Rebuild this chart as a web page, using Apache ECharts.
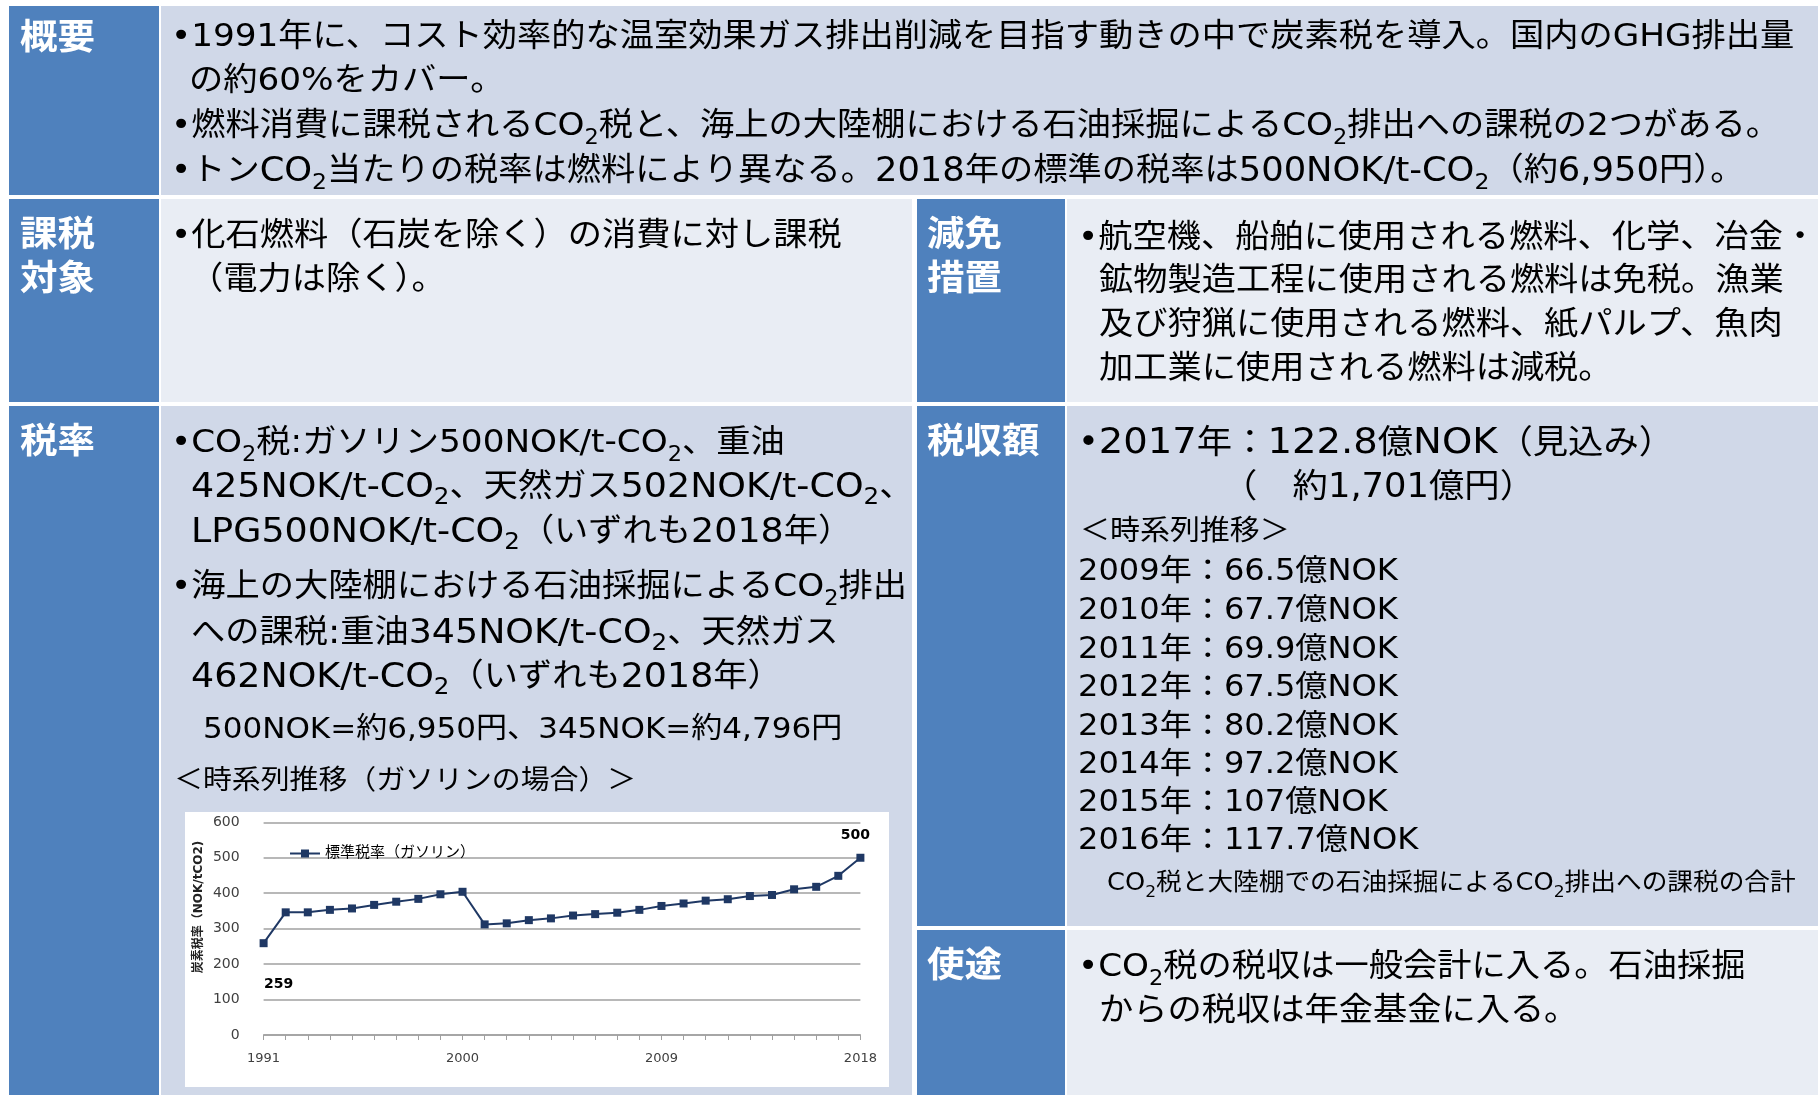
<!DOCTYPE html>
<html><head><meta charset="utf-8">
<script src="https://cdn.jsdelivr.net/npm/echarts@6/dist/echarts.min.js"></script>
<style>html,body{margin:0;padding:0;background:#fff}#main{width:1818px;height:1095px}</style>
</head><body><div id="main"></div>
<script>
// ---------- chart data ----------
const years = ['1991','1992','1993','1994','1995','1996','1997','1998','1999','2000','2001','2002','2003','2004','2005','2006','2007','2008','2009','2010','2011','2012','2013','2014','2015','2016','2017','2018'];
const gasolineRate = [259,346,346,353,357,367,376,384,397,404,312,315,324,329,337,341,345,353,364,371,379,383,392,395,411,418,449,500];
const seriesName = '標準税率（ガソリン）';
const yAxisTitle = '炭素税率（NOK/tCO2)';
const yMin = 0, yMax = 600, yStep = 100;

// ---------- table text ----------
const sectionLabels = ['概要', '課税', '対象', '減免', '措置', '税率', '税収額', '使途'];
const overviewLines = [
  '•1991年に、コスト効率的な温室効果ガス排出削減を目指す動きの中で炭素税を導入。国内のGHG排出量',
  'の約60%をカバー。',
  '•燃料消費に課税されるCO₂税と、海上の大陸棚における石油採掘によるCO₂排出への課税の2つがある。',
  '•トンCO₂当たりの税率は燃料により異なる。2018年の標準の税率は500NOK/t-CO₂（約6,950円）。'
];
const targetLines = ['•化石燃料（石炭を除く）の消費に対し課税', '（電力は除く）。'];
const reliefLines = [
  '•航空機、船舶に使用される燃料、化学、冶金・',
  '鉱物製造工程に使用される燃料は免税。漁業',
  '及び狩猟に使用される燃料、紙パルプ、魚肉',
  '加工業に使用される燃料は減税。'
];
const rateLines = [
  '•CO₂税:ガソリン500NOK/t-CO₂、重油',
  '425NOK/t-CO₂、天然ガス502NOK/t-CO₂、',
  'LPG500NOK/t-CO₂（いずれも2018年）',
  '•海上の大陸棚における石油採掘によるCO₂排出',
  'への課税:重油345NOK/t-CO₂、天然ガス',
  '462NOK/t-CO₂（いずれも2018年）'
];
const conversionLine = '500NOK=約6,950円、345NOK=約4,796円';
const rateChartHeading = '＜時系列推移（ガソリンの場合）＞';
const revenueLines = ['•2017年：122.8億NOK（見込み）', '（　約1,701億円）'];
const revenueHeading = '＜時系列推移＞';
const revenueYears = ['2009','2010','2011','2012','2013','2014','2015','2016'];
const revenueValues = ['66.5','67.7','69.9','67.5','80.2','97.2','107','117.7'];
const revenueNote = 'CO₂税と大陸棚での石油採掘によるCO₂排出への課税の合計';
const useLines = ['•CO₂税の税収は一般会計に入る。石油採掘', 'からの税収は年金基金に入る。'];

// ---------- helpers ----------
const FONT = "'DejaVu Sans','Noto Sans CJK JP',sans-serif";
const BLUE = '#4F81BD', DARK = '#D0D8E8', LIGHT = '#E9EDF4';
function toRich(str) {
  const parts = str.split('₂');
  let out = '';
  parts.forEach((p, i) => {
    const runs = p.match(/[\x20-\x7E]+|[^\x20-\x7E]+/g) || [];
    runs.forEach(r => { out += (/^[\x20-\x7E]/.test(r) ? '{a|' : '{n|') + r + '}'; });
    if (i < parts.length - 1) out += '{s|2}';
  });
  return out;
}
function txt(str, x, y, size, o) {
  o = o || {};
  const color = o.color || '#000';
  const lh = Math.round(size * 1.375);
  const subLH = Math.round(size * 0.6);
  const ls = o.latin || 1;
  const w = o.bold ? 'bold' : 'normal';
  return {
    type: 'text', x: x, y: y, scaleX: o.scaleX || 1.07, silent: true,
    style: {
      text: toRich(str), align: 'left', verticalAlign: 'middle',
      rich: {
        n: {fontSize: size, fontFamily: FONT, fontWeight: w, fill: color, lineHeight: lh},
        a: {fontSize: Math.round(size * ls), fontFamily: FONT, fontWeight: w, fill: color, lineHeight: lh},
        s: {fontSize: Math.round(size * 0.66 * ls), fontFamily: FONT, fill: color, lineHeight: subLH, verticalAlign: 'bottom'}
      }
    }
  };
}
function rect(x, y, w, h, c) {
  return {type: 'rect', silent: true, shape: {x: x, y: y, width: w, height: h}, style: {fill: c}};
}

const g = [];
// backgrounds
g.push(rect(9, 6, 150, 189, BLUE), rect(161, 6, 1657, 189, DARK));
g.push(rect(9, 199, 150, 203, BLUE), rect(161, 199, 751, 203, LIGHT));
g.push(rect(917, 199, 148, 203, BLUE), rect(1067, 199, 751, 203, LIGHT));
g.push(rect(9, 406, 150, 689, BLUE), rect(161, 406, 751, 689, DARK));
g.push(rect(917, 406, 148, 520, BLUE), rect(1067, 406, 751, 520, DARK));
g.push(rect(917, 930, 148, 165, BLUE), rect(1067, 930, 751, 165, LIGHT));
// chart image background
g.push(rect(185, 812, 704, 275, '#FFFFFF'));

// labels
const lab = (s, x, y) => txt(s, x, y, 35, {bold: true, color: '#fff'});
g.push(lab(sectionLabels[0], 20, 40));
g.push(lab(sectionLabels[1], 20, 237), lab(sectionLabels[2], 20, 281));
g.push(lab(sectionLabels[3], 927, 237), lab(sectionLabels[4], 927, 281));
g.push(lab(sectionLabels[5], 20, 444));
g.push(lab(sectionLabels[6], 927, 444));
g.push(lab(sectionLabels[7], 927, 968));

// row 1
[38, 82, 127, 172].forEach((y, i) => g.push(txt(overviewLines[i], i === 1 ? 189 : 171, y, 32, {latin: i === 3 ? 1.04 : 1})));
// row 2
[237, 281].forEach((y, i) => g.push(txt(targetLines[i], i === 0 ? 171 : 189, y, 32)));
[239, 282, 326, 370].forEach((y, i) => g.push(txt(reliefLines[i], i === 0 ? 1078 : 1099, y, 32)));
// row 3 left
[444, 488, 533, 588, 634, 678].forEach((y, i) => g.push(txt(rateLines[i], (i === 0 || i === 3) ? 171 : 191, y, 32, {latin: (i === 0 || i === 3) ? 1 : 1.07})));
g.push(txt(conversionLine, 203, 730, 29));
g.push(txt(rateChartHeading, 174, 782, 27));
// row 3 right
g.push(txt(revenueLines[0], 1078, 444, 33, {latin: 1.1}));
g.push(txt(revenueLines[1], 1222, 488, 33));
g.push(txt(revenueHeading, 1080, 533, 28));
[572, 611, 650, 688, 727, 765, 803, 841].forEach((y, i) =>
  g.push(txt(revenueYears[i] + '年：' + revenueValues[i] + '億NOK', 1078, y, 30)));
g.push(txt(revenueNote, 1107, 884, 24));
// use
g.push(txt(useLines[0], 1078, 968, 32), txt(useLines[1], 1099, 1012, 32));
// chart y title
g.push({type: 'text', x: 199, y: 907, rotation: Math.PI / 2, silent: true,
  style: {text: yAxisTitle, align: 'center', verticalAlign: 'middle', fontSize: 12, fontWeight: 'bold',
    fontFamily: FONT, fill: '#222'}});

const last = gasolineRate.length - 1;
const lineData = gasolineRate.map((v, i) => {
  if (i === 0) return {value: v, label: {show: true, position: 'bottom', distance: 30, offset: [15, 0]}};
  if (i === last) return {value: v, label: {show: true, position: 'top', distance: 11, offset: [-5, 0]}};
  return v;
});

const chart = echarts.init(document.getElementById('main'), null, {renderer: 'canvas'});
chart.setOption({
  animation: false,
  backgroundColor: '#ffffff',
  graphic: {elements: g},
  legend: {
    data: [seriesName], left: 284, top: 841, itemWidth: 30, itemHeight: 10, itemGap: 5, z: 8,
    textStyle: {fontSize: 15, fontFamily: FONT, color: '#000'}
  },
  grid: {left: 263.6, right: 957.6, top: 822.3, bottom: 60, containLabel: false},
  xAxis: {
    type: 'category', data: years, boundaryGap: false, z: 5,
    axisLine: {lineStyle: {color: '#a0a0a0', width: 1.5}},
    axisTick: {show: true, interval: 0, length: 5, lineStyle: {color: '#a0a0a0'}},
    axisLabel: {interval: 8, color: '#404040', fontFamily: 'DejaVu Sans', fontSize: 13, margin: 17},
    splitLine: {show: false}
  },
  yAxis: {
    type: 'value', min: yMin, max: yMax, interval: yStep, z: 5,
    axisLine: {show: false}, axisTick: {show: false},
    axisLabel: {color: '#404040', fontFamily: 'DejaVu Sans', fontSize: 14, margin: 24},
    splitLine: {lineStyle: {color: '#a0a0a0', width: 1.5}}
  },
  series: [{
    name: seriesName, type: 'line', data: lineData, z: 6,
    symbol: 'rect', symbolSize: 8,
    lineStyle: {color: '#1f3864', width: 2}, itemStyle: {color: '#1f3864'},
    label: {show: false, fontFamily: 'DejaVu Sans', fontWeight: 'bold', fontSize: 14, color: '#000'}
  }]
});
</script></body></html>
